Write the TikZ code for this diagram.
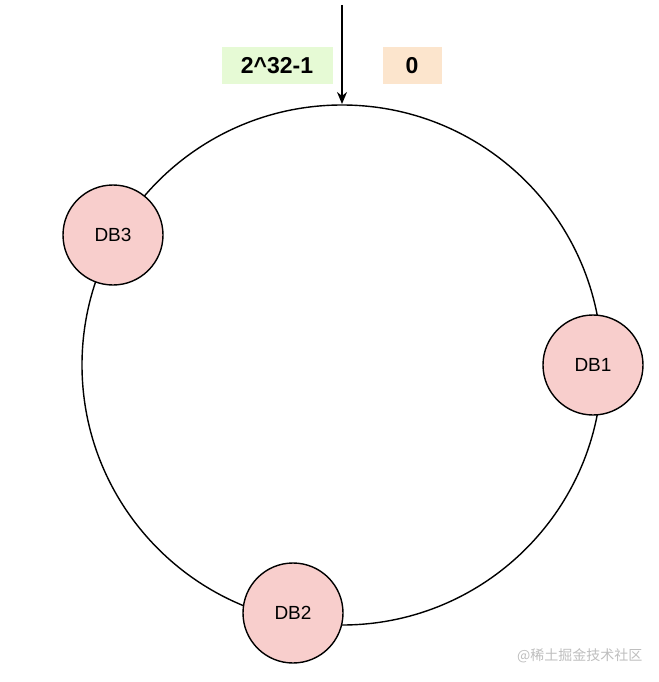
\documentclass[tikz,border=0pt]{standalone}
\usepackage{fontspec}
\setmainfont{Liberation Sans}
\newfontfamily\cjk{Noto Sans CJK SC}
\usetikzlibrary{arrows.meta}
\begin{document}
\begin{tikzpicture}[x=1pt,y=-1pt,
  db/.style={circle,draw,line width=1.4pt,fill={rgb,255:red,248;green,206;blue,204},minimum size=100pt,inner sep=0pt,font=\fontsize{19}{22}\selectfont},
  lbl/.style={font=\bfseries\fontsize{23}{26}\selectfont,inner sep=0pt}]
\useasboundingbox (0,0) rectangle (658,682);
\draw[line width=1.4pt] (342,365) circle (260);
\node[db] (db3) at (113,235) {DB3};
\node[db] (db1) at (593,365) {DB1};
\node[db] (db2) at (293,613) {DB2};
\coordinate (top) at (342,5);
\coordinate (ring) at (342,104);
\draw[line width=1.6pt,-{Stealth[length=12pt,width=10pt]}] (top) -- (ring);
\node[lbl,fill={rgb,255:red,230;green,250;blue,213},minimum width=111pt,minimum height=37pt] (max) at (277,66) {2\textasciicircum32-1};
\node[lbl,fill={rgb,255:red,252;green,229;blue,205},minimum width=59pt,minimum height=37pt] (zero) at (412,66) {0};
\node[text={rgb,255:red,190;green,190;blue,190},font=\cjk\fontsize{14}{16}\selectfont,anchor=east] (wm) at (646,656) {@稀土掘金技术社区};
\end{tikzpicture}
\end{document}
